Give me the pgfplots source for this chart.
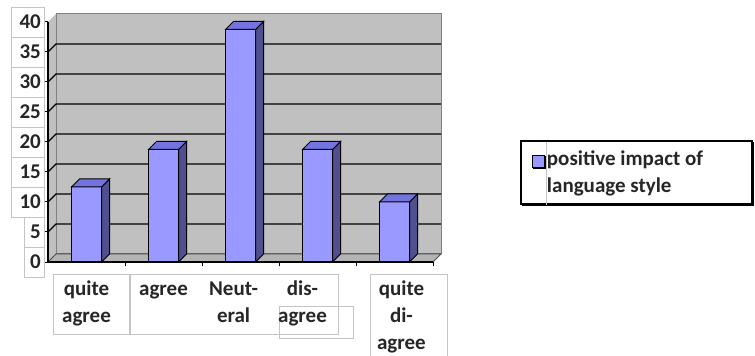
\documentclass[border=0pt]{standalone}
\usepackage{fontspec}
\setmainfont{Carlito}
\usepackage{pgfplots}
\pgfplotsset{compat=1.18}
\usepackage{pgfplotstable}
\usetikzlibrary{shadows}

\definecolor{barfront}{HTML}{9999FF}
\definecolor{barside}{HTML}{505090}
\definecolor{bartop}{HTML}{7474E0}
\definecolor{wall}{HTML}{C0C0C0}
\definecolor{floorgray}{HTML}{B4B4B4}
\definecolor{labelbox}{HTML}{C4C4C4}
\definecolor{ink}{HTML}{262626}

\pgfdeclareplotmark{blank}{}

% share of answers per category
\pgfplotstableread{
pos value
0 12.5
1 18.75
2 38.75
3 18.75
4 10
}\responses

\newcommand\lblfont{\fontsize{21bp}{27bp}\selectfont\bfseries}

\begin{document}
\begin{tikzpicture}[font=\lblfont]
\useasboundingbox (0,0) rectangle (755bp,356bp);
% frames around the category names
\begin{scope}[draw=labelbox, line width=1bp]
  \draw (53bp,81bp) rectangle (130bp,21bp);
  \draw (130bp,81bp) rectangle (338bp,21bp);
  \draw[line width=2bp] (130bp,81bp) -- (130bp,21bp);
  \draw (279bp,49bp) rectangle (353bp,17bp);
  \draw (370bp,-5bp) -- (370bp,81bp) -- (447bp,81bp) -- (447bp,-5bp);
\end{scope}
\begin{axis}[
  at={(48bp,94bp)}, anchor=south west,
  x=77bp, y=6bp,
  xmin=-0.5, xmax=4.5, ymin=0, ymax=40,
  clip=false, axis on top,
  axis lines=left,
  axis line style={-, black, line width=1.6bp},
  tick style={black, line width=1bp},
  tick align=outside,
  major tick length=4bp,
  ytick={0,5,...,40},
  /pgf/number format/assume math mode=true,
  yticklabel={\ifnum\ticknum<2 \makebox[14bp][r]{\pgfmathprintnumber{\tick}}\else\makebox[27bp][r]{\pgfmathprintnumber{\tick}}\fi},
  yticklabel style={draw=labelbox, fill=white, text=ink, font=\lblfont,
    inner xsep=3bp, inner ysep=0pt, minimum height=30bp, anchor=east},
  xtick={0.5,1.5,2.5,3.5,4.5},
  xticklabels={},
  extra x ticks={0,1,1.91,2.805,4.09},
  extra x tick labels={{\strut quite\\agree},{\strut agree},{\strut Neut-\\eral},{\strut dis-\\agree},{\strut quite\\di-\\agree}},
  extra x tick style={major tick length=0pt,
    xticklabel style={align=center, anchor=north, text=ink, font=\lblfont, yshift=-11bp}},
  legend style={at={(1.226,0.508)}, anchor=north west, draw=black, line width=1.5bp,
    fill=white, text=ink, font=\lblfont, inner xsep=11bp, inner ysep=8bp,
    drop shadow={shadow xshift=1.5bp, shadow yshift=-1.5bp, fill=black, opacity=1},
    nodes={align=left, inner xsep=2bp}},
  legend cell align=left,
  legend image code/.code={\draw[fill=barfront, draw=black, line width=1.2bp] (0bp,5bp) rectangle (12bp,17bp);},
]
  % side wall, back wall and floor of the box
  \fill[wall] (axis cs:-0.5,0) -- ([shift={(8bp,8bp)}]axis cs:-0.5,0)
     -- ([shift={(8bp,8bp)}]axis cs:-0.5,40) -- (axis cs:-0.5,40) -- cycle;
  \filldraw[fill=wall, draw=gray, line width=1bp] ([shift={(8bp,8bp)}]axis cs:-0.5,0)
     rectangle ([shift={(8bp,8bp)}]axis cs:4.5,40);
  \filldraw[fill=floorgray, draw=black!70, line width=1bp] (axis cs:-0.5,0) -- (axis cs:4.5,0)
     -- ([shift={(8bp,8bp)}]axis cs:4.5,0) -- ([shift={(8bp,8bp)}]axis cs:-0.5,0) -- cycle;
  \pgfplotsinvokeforeach{5,10,15,20,25,30,35}{
    \draw[black, line width=1.4bp] (axis cs:-0.5,#1) -- ([shift={(8bp,8bp)}]axis cs:-0.5,#1)
       -- ([shift={(8bp,8bp)}]axis cs:4.5,#1);
  }
  \addplot[ybar, bar width=30bp, fill=barfront, draw=black, line width=1bp]
    table[x=pos, y=value] {\responses};
  \addlegendentry{positive impact of\hspace*{36bp}\\language style}
  % side and top faces of each bar
  \addplot[forget plot, only marks, mark=blank, scatter,
    visualization depends on={rawy \as \barval},
    scatter/@pre marker code/.code={%
      \filldraw[fill=barside, draw=black, line width=1bp] (15bp,0pt) -- (23bp,8bp)
        -- (23bp,{8bp-\barval*6bp}) -- (15bp,{-\barval*6bp}) -- cycle;
      \filldraw[fill=bartop, draw=black, line width=1bp] (-15bp,0pt) -- (15bp,0pt)
        -- (23bp,8bp) -- (-7bp,8bp) -- cycle;
    },
    scatter/@post marker code/.code={}]
    table[x=pos, y=value] {\responses};
\end{axis}
\draw[labelbox, line width=1bp] (546bp,214bp) -- (546bp,151bp);
\end{tikzpicture}
\end{document}
